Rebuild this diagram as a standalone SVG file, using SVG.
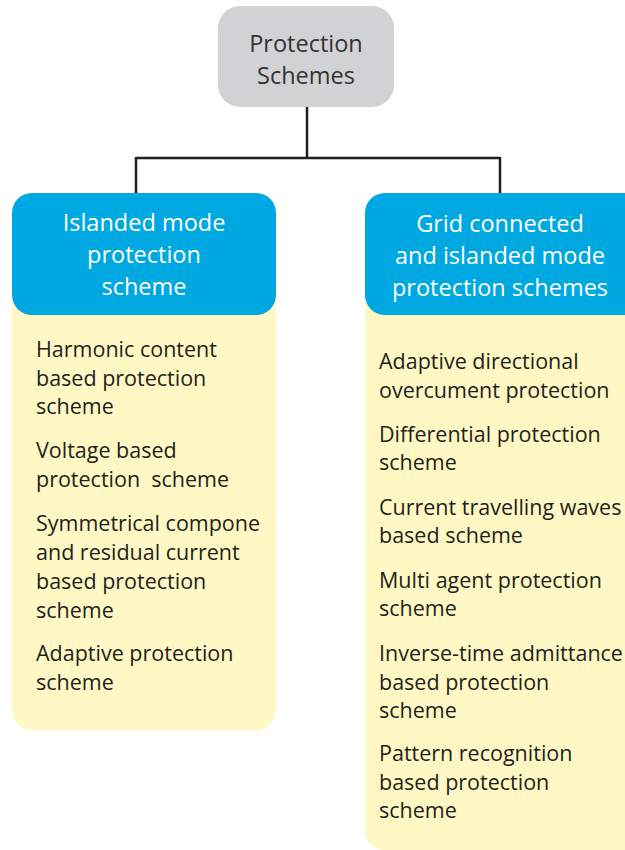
<svg xmlns="http://www.w3.org/2000/svg" width="625" height="850" viewBox="0 0 625 850">
<style>
.hdr{fill:#00a8e1}
.body{fill:#fff8c4}
.ht{font-family:"Open Sans","Liberation Sans",Arial,sans-serif;font-size:23.5px;fill:#ffffff;text-anchor:middle}
.tt{font-family:"Open Sans","Liberation Sans",Arial,sans-serif;font-size:23.5px;fill:#333333;text-anchor:middle}
.it{font-family:"Open Sans","Liberation Sans",Arial,sans-serif;font-size:21.5px;fill:#231f20}
.conn{stroke:#231f20;stroke-width:2.5;fill:none}
</style>
<rect width="625" height="850" fill="#ffffff"/>
<g id="connectors">
<path class="conn" d="M307,107 V158 M136,158 H500 M136,157 V194 M500,157 V194"/>
</g>
<g id="root">
<rect x="218" y="6" width="176" height="101" rx="22" fill="#d1d2d4"/>
<text class="tt" x="306" y="52">Protection</text>
<text class="tt" x="306" y="84">Schemes</text>
</g>
<g id="islanded">
<rect class="body" x="12" y="290" width="264" height="440" rx="20"/>
<rect class="hdr" x="12" y="193" width="264" height="122" rx="20"/>
<text class="ht" x="144" y="231">Islanded mode</text>
<text class="ht" x="144" y="263">protection</text>
<text class="ht" x="144" y="295">scheme</text>
<text class="it" x="36" y="357">Harmonic content</text>
<text class="it" x="36" y="386">based protection</text>
<text class="it" x="36" y="414">scheme</text>
<text class="it" x="36" y="458">Voltage based</text>
<text class="it" x="36" y="487" xml:space="preserve" style="white-space:pre">protection  scheme</text>
<text class="it" x="36" y="531">Symmetrical compone</text>
<text class="it" x="36" y="560">and residual current</text>
<text class="it" x="36" y="589">based protection</text>
<text class="it" x="36" y="618">scheme</text>
<text class="it" x="36" y="661">Adaptive protection</text>
<text class="it" x="36" y="690">scheme</text>
</g>
<g id="grid">
<rect class="body" x="365" y="290" width="280" height="560" rx="20"/>
<rect class="hdr" x="365" y="193" width="280" height="122" rx="20"/>
<text class="ht" x="500" y="232">Grid connected</text>
<text class="ht" x="500" y="264">and islanded mode</text>
<text class="ht" x="500" y="296">protection schemes</text>
<text class="it" x="379" y="369">Adaptive directional</text>
<text class="it" x="379" y="398">overcument protection</text>
<text class="it" x="379" y="442">Differential protection</text>
<text class="it" x="379" y="470">scheme</text>
<text class="it" x="379" y="515">Current travelling waves</text>
<text class="it" x="379" y="543">based scheme</text>
<text class="it" x="379" y="588">Multi agent protection</text>
<text class="it" x="379" y="616">scheme</text>
<text class="it" x="379" y="661">Inverse-time admittance</text>
<text class="it" x="379" y="690">based protection</text>
<text class="it" x="379" y="718">scheme</text>
<text class="it" x="379" y="761">Pattern recognition</text>
<text class="it" x="379" y="790">based protection</text>
<text class="it" x="379" y="818">scheme</text>
</g>
</svg>
